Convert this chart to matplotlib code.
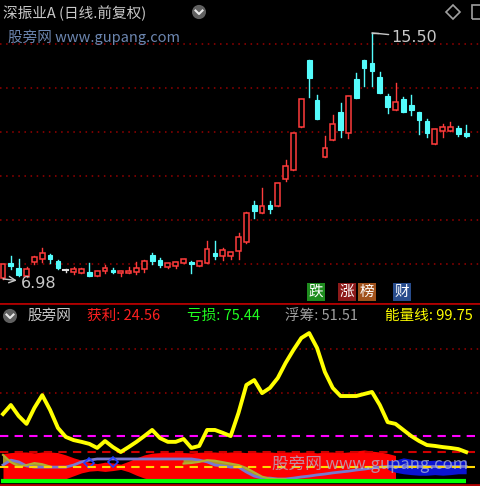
import numpy as np
import matplotlib
matplotlib.use('Agg')
import matplotlib.pyplot as plt
from matplotlib.patches import Rectangle, Circle, Polygon

plt.rcParams['font.family'] = ['Noto Sans CJK SC', 'DejaVu Sans']

# 日K线 (开, 高, 低, 收)
opens = [7.01, 7.53, 7.36, 7.08, 7.57, 7.67, 7.81, 7.60, 7.29, 7.22,
         7.19, 7.22, 7.08, 7.26, 7.29, 7.19, 7.19, 7.22, 7.32, 7.81,
         7.64, 7.39, 7.43, 7.53, 7.57, 7.43, 7.53, 7.88, 7.78, 7.78,
         7.95, 8.26, 9.54, 9.26, 9.54, 9.51, 10.44, 10.75, 12.24, 14.56,
         13.18, 11.20, 11.79, 12.76, 12.04, 13.91, 14.56, 14.46, 13.98, 13.32,
         12.83, 13.21, 13.01, 12.76, 12.45, 11.65, 12.11, 12.11, 12.21, 12.04]
highs = [7.50, 7.78, 7.67, 7.39, 7.78, 8.05, 7.84, 7.64, 7.32, 7.39,
         7.36, 7.53, 7.26, 7.46, 7.36, 7.26, 7.39, 7.57, 7.64, 7.88,
         7.71, 7.53, 7.57, 7.67, 7.60, 7.60, 8.30, 8.30, 8.05, 7.91,
         8.57, 9.30, 9.68, 10.13, 9.68, 10.30, 11.10, 12.04, 13.21, 14.56,
         13.35, 11.93, 12.66, 13.08, 13.32, 14.11, 14.56, 15.50, 14.15, 13.39,
         13.77, 13.28, 13.35, 12.76, 12.52, 12.17, 12.35, 12.42, 12.28, 12.31]
lows = [6.98, 7.32, 7.08, 7.05, 7.50, 7.57, 7.53, 7.32, 7.22, 7.15,
        7.19, 7.08, 7.08, 7.19, 7.19, 7.08, 7.19, 7.15, 7.22, 7.50,
        7.39, 7.36, 7.36, 7.53, 7.19, 7.43, 7.53, 7.67, 7.64, 7.67,
        7.67, 8.23, 9.09, 9.26, 9.26, 9.51, 10.37, 10.75, 12.24, 13.28,
        12.52, 11.20, 11.79, 11.90, 11.86, 13.25, 13.66, 13.66, 13.42, 12.73,
        12.83, 12.76, 12.66, 12.00, 11.90, 11.65, 11.90, 12.11, 11.93, 11.90]
closes = [7.50, 7.43, 7.12, 7.32, 7.74, 7.88, 7.67, 7.36, 7.29, 7.32,
          7.32, 7.08, 7.26, 7.36, 7.22, 7.26, 7.26, 7.36, 7.60, 7.60,
          7.46, 7.53, 7.57, 7.67, 7.50, 7.60, 8.02, 7.78, 7.98, 7.91,
          8.43, 9.26, 9.33, 9.51, 9.40, 10.30, 10.89, 12.04, 13.21, 13.94,
          12.52, 11.52, 12.35, 12.14, 13.32, 13.25, 14.29, 14.18, 13.42, 12.94,
          13.11, 12.76, 12.83, 12.49, 12.04, 12.17, 12.24, 12.24, 12.00, 11.93]

# 能量线
energy = [231, 262, 224, 197, 252, 296, 245, 183, 152, 141,
          135, 128, 114, 138, 117, 100, 117, 135, 155, 176,
          148, 135, 135, 145, 114, 121, 176, 176, 166, 155,
          235, 331, 348, 303, 321, 355, 407, 452, 493, 510,
          459, 376, 321, 293, 293, 293, 300, 307, 262, 203,
          197, 176, 155, 138, 124, 121, 117, 114, 110, 99.75]

nan = np.nan
# 筹码分布 (红区上下沿)
chip_hi = [95, 98, 100, 100, 97, 100, 100, 98, 90, 80,
           72, 64, 60, 65, 62, 58, 68, 80, 90, 96,
           98, 99, 100, 98, 97, 99, 100, 100, 98, 100,
           100, 98, 100, 99, 100, 98, 100, 100, 99, 100,
           97, 100, 100, 98, 100, 104, 107, 103, 100, 95,
           88, nan, nan, nan, nan, nan, nan, nan, nan, nan]
chip_lo = [3, 3, 3, 3, 3, 3, 3, 3, 8, 18,
           28, 34, 36, 33, 36, 40, 32, 20, 10, 3,
           3, 3, 3, 3, 3, 3, 3, 3, 3, 3,
           3, 3, 3, 3, 3, 3, 3, 3, 3, 3,
           3, 3, 3, 3, 3, 3, 3, 3, 3, 3,
           3, nan, nan, nan, nan, nan, nan, nan, nan, nan]
blue_hi = [nan] * 49 + [70, 72, 80, 75, 72, 70, 72, 70, 68, 70, 72]
blue_lo = [nan] * 49 + [40, 30, 25, 22, 20, 20, 22, 20, 22, 25, 25]
# 浮筹线
float_line = [55, 72, 66, 52, 48, 48, 48, 48, 48, 55,
              66, 72, 76, 76, 76, 76, 76, 76, 76, 76,
              76, 76, 76, 76, 76, 72, 66, 55, 52, 48,
              48, 31, 17, 10, 10, 7, 7, 10, 14, 17,
              21, 24, 28, 31, 34, 38, 41, 45, 48, 50,
              50, 50, 50, 50, 50, 50, 50, 50, 50, 50]
olive_line = [90, 65, 50, 55, 62, 58, 50, nan, nan, nan,
              nan, nan, nan, nan, nan, nan, nan, nan, nan, nan,
              nan, nan, nan, 60, 62, 66, 72, 70, 65, 60,
              55, 45, 30, 15, 8, 6, 6, nan, nan, nan,
              nan, nan, nan, nan, nan, nan, nan, nan, nan, nan,
              nan, nan, nan, nan, nan, nan, nan, nan, nan, nan]

W, H = 480, 486
fig = plt.figure(figsize=(W / 100, H / 100), dpi=100, facecolor='black')


def fx(x):
    return x / W


def fy(y):
    return 1 - y / H


ax1 = fig.add_axes([0, fy(302), 1, 302 / H])
ax2 = fig.add_axes([0, 0, 1, fy(303)])
for ax in (ax1, ax2):
    ax.set_facecolor('black')
    ax.set_xticks([])
    ax.set_yticks([])
    for s in ax.spines.values():
        s.set_visible(False)

n = len(opens)
x = np.arange(n)
RED = '#FF3C3C'
CYAN = '#54FCFC'

# 主图K线
ax1.set_xlim(-0.38, 60.76)
ax1.set_ylim(6.18, 16.64)
for lv in np.linspace(7.50, 15.125, 6):
    ax1.axhline(lv, color='#9A0000', lw=1.1, ls=(0, (1, 3)), zorder=0)

bw = 0.6
for i in range(n):
    o, h, l, c = opens[i], highs[i], lows[i], closes[i]
    if c > o:
        col = RED
    elif c < o:
        col = CYAN
    else:
        col = '#E0E0E0'
    ax1.plot([i, i], [l, h], color=col, lw=1, zorder=2)
    lo_b, hi_b = min(o, c), max(o, c)
    if hi_b - lo_b < 0.03:
        ax1.plot([i - bw / 2, i + bw / 2], [o, o], color=col, lw=1.5, zorder=3)
    elif c > o:
        ax1.add_patch(Rectangle((i - bw / 2, lo_b), bw, hi_b - lo_b,
                                facecolor='black', edgecolor=col, lw=1.1, zorder=3))
    else:
        ax1.add_patch(Rectangle((i - bw / 2, lo_b), bw, hi_b - lo_b,
                                facecolor=col, edgecolor=col, lw=0.8, zorder=3))

imax = int(np.argmax(highs))
imin = int(np.argmin(lows))
ax1.plot([imax, imax + 0.8], [highs[imax], highs[imax]], color='#C8C8C8', lw=1, zorder=4)
ax1.annotate('15.50', xy=(imax, highs[imax]), xytext=(14, -3), textcoords='offset points',
             color='#C8C8C8', fontsize=11.5, va='center', ha='left', family='DejaVu Sans',
             arrowprops=dict(arrowstyle='-', color='#C8C8C8', lw=1, shrinkA=0, shrinkB=0))
ax1.annotate('6.98', xy=(imin, lows[imin]), xytext=(13, -3), textcoords='offset points',
             color='#C8C8C8', fontsize=11.5, va='center', ha='left', family='DejaVu Sans',
             arrowprops=dict(arrowstyle='<-', color='#C8C8C8', lw=1, shrinkA=1, shrinkB=0))

# 标题
fig.text(fx(3), fy(13), '深振业A (日线.前复权)', color='#C8C8C8', fontsize=10.5, va='center', ha='left')
fig.text(fx(8), fy(37), '股旁网 www.gupang.com', color='#6C86B0', fontsize=10.5, va='center', ha='left')
for cx, cy in [(199, 12), (10, 316)]:
    fig.patches.append(Circle((fx(cx), fy(cy)), 7 / W, transform=fig.transFigure,
                              facecolor='#606060', edgecolor='none'))
    fig.lines.append(plt.Line2D([fx(cx - 3.5), fx(cx), fx(cx + 3.5)], [fy(cy - 1.5), fy(cy + 2), fy(cy - 1.5)],
                                transform=fig.transFigure, color='#E8E8E8', lw=1.5))
fig.patches.append(Polygon([(fx(453), fy(5)), (fx(460), fy(12)), (fx(453), fy(19)), (fx(446), fy(12))],
                           closed=True, transform=fig.transFigure, fill=False, edgecolor='#A0A0A0', lw=1.2))
fig.patches.append(Rectangle((fx(472), fy(19)), 12 / W, 14 / H, transform=fig.transFigure,
                             fill=False, edgecolor='#A0A0A0', lw=1.2))

# 标签
badges = [('跌', 316, '#1E8C1E'), ('涨', 347, '#8C1A1A'), ('榜', 367, '#A0521C'), ('财', 402, '#284C8C')]
for t, bx, bc in badges:
    fig.text(fx(bx), fy(292), t, color='white', fontsize=10.5, ha='center', va='center',
             bbox=dict(boxstyle='square,pad=0.12', facecolor=bc, edgecolor='none'))

# 副图
ax2.set_xlim(-0.38, 60.76)
ax2.set_ylim(-17.2, 613.7)
ax2.axhline(613.7, color='#B00000', lw=2)
ax2.axhline(-13, color='#B00000', lw=2)
for lv in (455, 303):
    ax2.axhline(lv, color='#9A0000', lw=1.1, ls=(0, (1, 3)), zorder=0)

ax2.fill_between(x, chip_lo, chip_hi, color='#FF0000', lw=0, zorder=1)
ax2.fill_between(x, blue_lo, blue_hi, color='#0A14D2', lw=0, zorder=1)
ax2.fill_between(x, float_line, olive_line, color='#A8A828', lw=0, alpha=0.9, zorder=2)
ax2.plot(x, float_line, color='#7878D0', lw=2, zorder=3)
ax2.plot(x, olive_line, color='#B0B030', lw=1.5, zorder=3)
for i in (11, 14):
    ax2.plot(i, float_line[i] - 10, marker='D', ms=5, mfc='none', mec='#2040FF', mew=1.2, zorder=4)

ax2.text(0.77, 0.12, '股旁网 www.gupang.com', transform=ax2.transAxes, color='#B0B8D0',
         alpha=0.75, fontsize=12, ha='center', va='center', zorder=6)

ax2.axhline(155, color='#FF00FF', lw=1.5, ls=(0, (4, 3)), zorder=4)
ax2.axhline(100, color='#D00000', lw=1.5, ls=(0, (4, 3)), zorder=4)
ax2.axhline(50, color='#FFD700', lw=1.5, ls=(0, (4, 3)), zorder=4)
ax2.plot([-0.2, n - 1], [0, 0], color='#00FF00', lw=3, zorder=4, solid_capstyle='butt')
ax2.plot(x, energy, color='#FFFF00', lw=2.8, zorder=5)

fig.text(fx(27), fy(316), '股旁网', color='#C8C8C8', fontsize=10.5, va='center', ha='left')
fig.text(fx(87), fy(316), '获利: 24.56', color='#FF2020', fontsize=10.5, va='center', ha='left')
fig.text(fx(187), fy(316), '亏损: 75.44', color='#20FF20', fontsize=10.5, va='center', ha='left')
fig.text(fx(285), fy(316), '浮筹: 51.51', color='#A0A0A0', fontsize=10.5, va='center', ha='left')
fig.text(fx(385), fy(316), '能量线: 99.75', color='#FFFF00', fontsize=10.5, va='center', ha='left')

fig.savefig('out.png', dpi=100, facecolor='black')
